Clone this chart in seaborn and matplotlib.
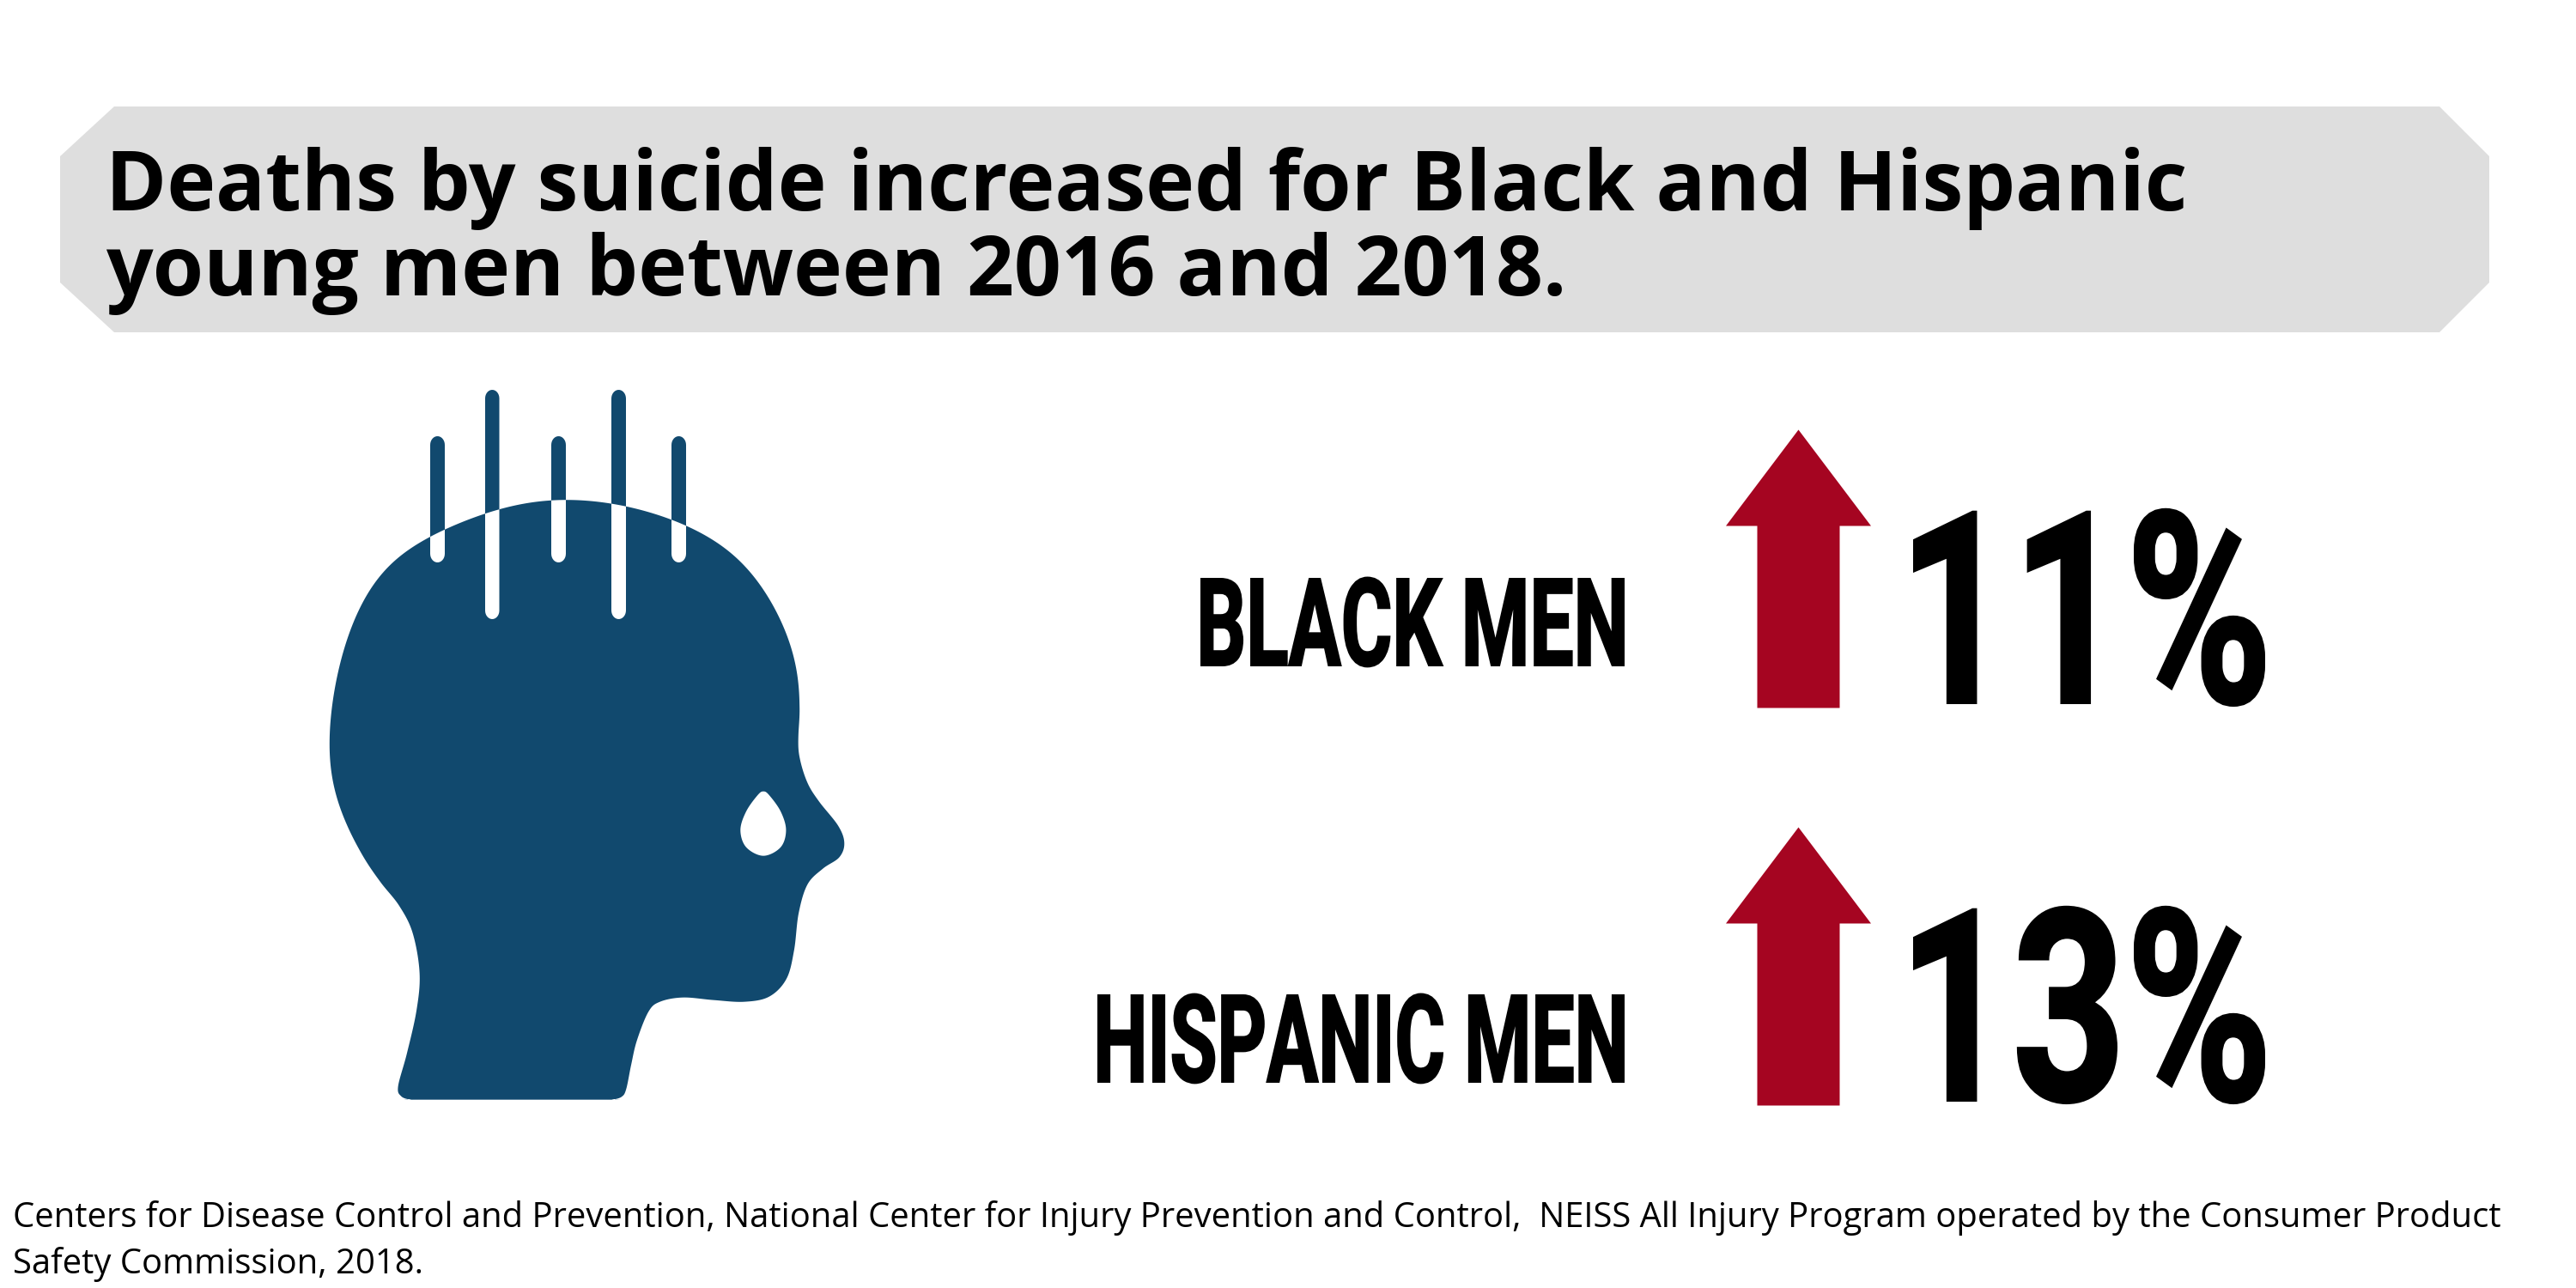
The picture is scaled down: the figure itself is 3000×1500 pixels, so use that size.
import numpy as np
import pandas as pd
import matplotlib
matplotlib.use("Agg")
import matplotlib.pyplot as plt
import seaborn as sns
from matplotlib import font_manager as fm
from matplotlib.path import Path
from matplotlib.patches import Polygon
from matplotlib.patheffects import AbstractPathEffect
from matplotlib.textpath import TextPath
from matplotlib.transforms import Affine2D

# ---- chart content ----
TITLE_LINES = ["Deaths by suicide increased for Black and Hispanic",
               "young men between 2016 and 2018."]
GROUPS = ["BLACK MEN", "HISPANIC MEN"]
INCREASE_PCT = [11, 13]
SOURCE_LINES = ["Centers for Disease Control and Prevention, National Center for Injury Prevention and Control,  NEISS All Injury Program operated by the Consumer Product",
                "Safety Commission, 2018."]

# ---- colours ----
BLUE = "#11496E"
RED = "#A50521"
GREY = "#DEDEDE"

sns.set_theme(style="white")
W, H = 3000, 1500
fig = plt.figure(figsize=(W / 100, H / 100), dpi=100, facecolor="white")
ax = fig.add_axes([0, 0, 1, 1])
ax.set_xlim(0, W)
ax.set_ylim(H, 0)
ax.axis("off")

CONDENSED_FAMILY = "Roboto"


class Squeeze(AbstractPathEffect):
    """Keep a real text artist but condense its glyphs horizontally."""

    def __init__(self, sx, x0, lw_px):
        super().__init__()
        self.sx, self.x0, self.lw = sx, x0, lw_px

    def draw_path(self, renderer, gc, tpath, affine, rgbFace):
        a = affine + Affine2D().translate(-self.x0, 0).scale(self.sx, 1).translate(self.x0, 0)
        g = renderer.new_gc()
        g.copy_properties(gc)
        g.set_linewidth(self.lw * 0.72)
        g.set_foreground("black")
        g.set_joinstyle("miter")
        renderer.draw_path(g, tpath, a, rgbFace)
        g.restore()


def condensed(s, left, right, top, baseline, lw):
    fp = fm.FontProperties(family=CONDENSED_FAMILY, weight="bold")
    cap = TextPath((0, 0), "H", size=100, prop=fp).get_extents().height / 100
    em = (baseline - top - lw) / cap
    ext = TextPath((0, 0), s, size=em, prop=fp).get_extents()
    sx = (right - left - lw) / ext.width
    x = left + lw / 2 - ext.x0 * sx
    ax.text(x, baseline - lw / 2, s, fontproperties=fp, fontsize=em * 0.72, color="black",
            ha="left", va="baseline",
            path_effects=[Squeeze(sx, x, lw)])


def fitted(s, left, right, baseline, weight, ref=None):
    fp = fm.FontProperties(family="Open Sans", weight=weight)
    ext = TextPath((0, 0), ref or s, size=100, prop=fp).get_extents()
    em = 100 * (right - left) / ext.width
    ax.text(left - ext.x0 * em / 100, baseline, s, fontproperties=fp, fontsize=em * 0.72,
            color="black", ha="left", va="baseline")


# ---- title banner ----
bx0, bx1, by0, by1 = 70, 2899, 124, 387
cl, cr, cy = 63, 58, 58
ax.add_patch(Polygon([(bx0 + cl, by0), (bx1 - cr, by0), (bx1, by0 + cy), (bx1, by1 - cy),
                      (bx1 - cr, by1), (bx0 + cl, by1), (bx0, by1 - cy), (bx0, by0 + cy)],
                     closed=True, fc=GREY, ec="none", zorder=1))
fitted(TITLE_LINES[0], 132, 2544, 245, "bold")
fitted(TITLE_LINES[1], 132, 2544, 344, "bold", ref=TITLE_LINES[0])


# ---- head icon (decorative silhouette) ----
def spline(pts, n=14):
    p = np.asarray(pts, float)
    m = len(p)
    out = []
    for i in range(m):
        p0, p1, p2, p3 = p[(i - 1) % m], p[i], p[(i + 1) % m], p[(i + 2) % m]
        for t in np.linspace(0, 1, n, endpoint=False):
            out.append(0.5 * (2 * p1 + (p2 - p0) * t + (2 * p0 - 5 * p1 + 4 * p2 - p3) * t ** 2
                              + (3 * p1 - p0 - 3 * p2 + p3) * t ** 3))
    return np.array(out)


def upper(q):
    return [(340 + x * 0.4464, 430 + y / 3) for x, y in q]


def lower(q):
    return [(340 + x * 0.4464, 850 + y / 3) for x, y in q]


head_pts = (
    upper([(730, 458), (870, 474), (1030, 545), (1125, 625), (1200, 715), (1265, 850),
           (1310, 1000), (1327, 1130)])
    + lower([(1320, 20), (1325, 100), (1345, 185), (1375, 250), (1425, 335), (1441, 395), (1428, 445),
             (1385, 485), (1345, 540), (1322, 640), (1310, 770), (1290, 870), (1245, 932),
             (1180, 950), (1100, 944), (1020, 935), (960, 950), (930, 985), (900, 1085),
             (885, 1170), (872, 1255), (860, 1282), (835, 1292), (815, 1292), (335, 1292),
             (310, 1292), (285, 1280), (277, 1245), (300, 1130), (325, 980), (333, 850),
             (315, 710), (280, 615), (230, 530), (180, 430), (130, 290), (105, 150)])
    + upper([(98, 1270), (125, 1000), (190, 800), (265, 670), (360, 590), (500, 507), (610, 470)])
)
head = spline(head_pts)

# even out the dome and the back of the skull, where the outline has no corners
k = np.exp(-0.5 * (np.arange(-50, 51) / 14.0) ** 2)
k /= k.sum()


def blur(c):
    wrap = np.vstack([c[-50:], c, c[:50]])
    return np.c_[np.convolve(wrap[:, 0], k, "valid"), np.convolve(wrap[:, 1], k, "valid")]


once = blur(head)
smooth = 2 * once - blur(once)  # second pass undoes the shrinkage of the first
blend = np.clip((880 - head[:, 1]) / 60, 0, 1)
blend = np.maximum(blend, np.where(head[:, 0] < 470, np.clip((1020 - head[:, 1]) / 60, 0, 1), 0))
head = head * (1 - blend[:, None]) + smooth * blend[:, None]

head_patch = Polygon(head, closed=True, fc=BLUE, ec="none", zorder=3)
bar_spans = [(501, 518, 508, 655), (565, 581.5, 454, 721), (642, 659, 508, 655),
             (712, 729, 454, 721), (782, 799, 508, 655)]


def pill(x0, x1, y0, y1):
    r = (x1 - x0) / 2
    xc = (x0 + x1) / 2
    a = np.linspace(np.pi, 0, 16)
    top = np.c_[xc + r * np.cos(a), y0 + 1.2 * r - 1.2 * r * np.sin(a)]
    bot = np.c_[xc - r * np.cos(a), y1 - 1.2 * r + 1.2 * r * np.sin(a)]
    return np.vstack([top, bot])


for b in bar_spans:
    ax.add_patch(Polygon(pill(*b), closed=True, fc=BLUE, ec="none", zorder=2))
ax.add_patch(head_patch)
for b in bar_spans:
    w = Polygon(pill(*b), closed=True, fc="white", ec="none", zorder=4)
    ax.add_patch(w)
    w.set_clip_path(head_patch)
drop = spline(lower([(1230, 215), (1215, 228), (1185, 285), (1170, 350), (1185, 410), (1230, 440),
                     (1275, 410), (1289, 350), (1275, 285), (1245, 228)]))
ax.add_patch(Polygon(drop, closed=True, fc="white", ec="none", zorder=5))

# ---- rows: arrows, labels, percentages ----
row_center = [662, 1125]
df = pd.DataFrame({"group": GROUPS, "pct": INCREASE_PCT, "x": [2094] * 2, "y": row_center})
arrow = Path([(0, 162), (84.5, 50), (48, 50), (48, -162), (-48, -162), (-48, 50), (-84.5, 50), (0, 162)],
             closed=True)
sns.scatterplot(data=df, x="x", y="y", marker=arrow, s=(2 * 162 * 0.72) ** 2, color=RED,
                linewidth=0, legend=False, ax=ax, zorder=3)
ax.set_xlim(0, W)
ax.set_ylim(H, 0)

label_boxes = [(1398, 1892, 673, 776), (1278, 1892, 1158, 1261)]
pct_boxes = [(2228, 2638, 595, 820), (2228, 2638, 1058, 1283)]
for g, p, lb, pb in zip(GROUPS, INCREASE_PCT, label_boxes, pct_boxes):
    condensed(g, *lb, lw=2)
    condensed(f"{p}%", *pb, lw=3)

# ---- source ----
fitted(SOURCE_LINES[0], 17, 2914, 1429, "normal")
fitted(SOURCE_LINES[1], 17, 2914, 1483, "normal", ref=SOURCE_LINES[0])

sns.despine(ax=ax, left=True, bottom=True)
fig.savefig("out.png", dpi=100, facecolor="white")
